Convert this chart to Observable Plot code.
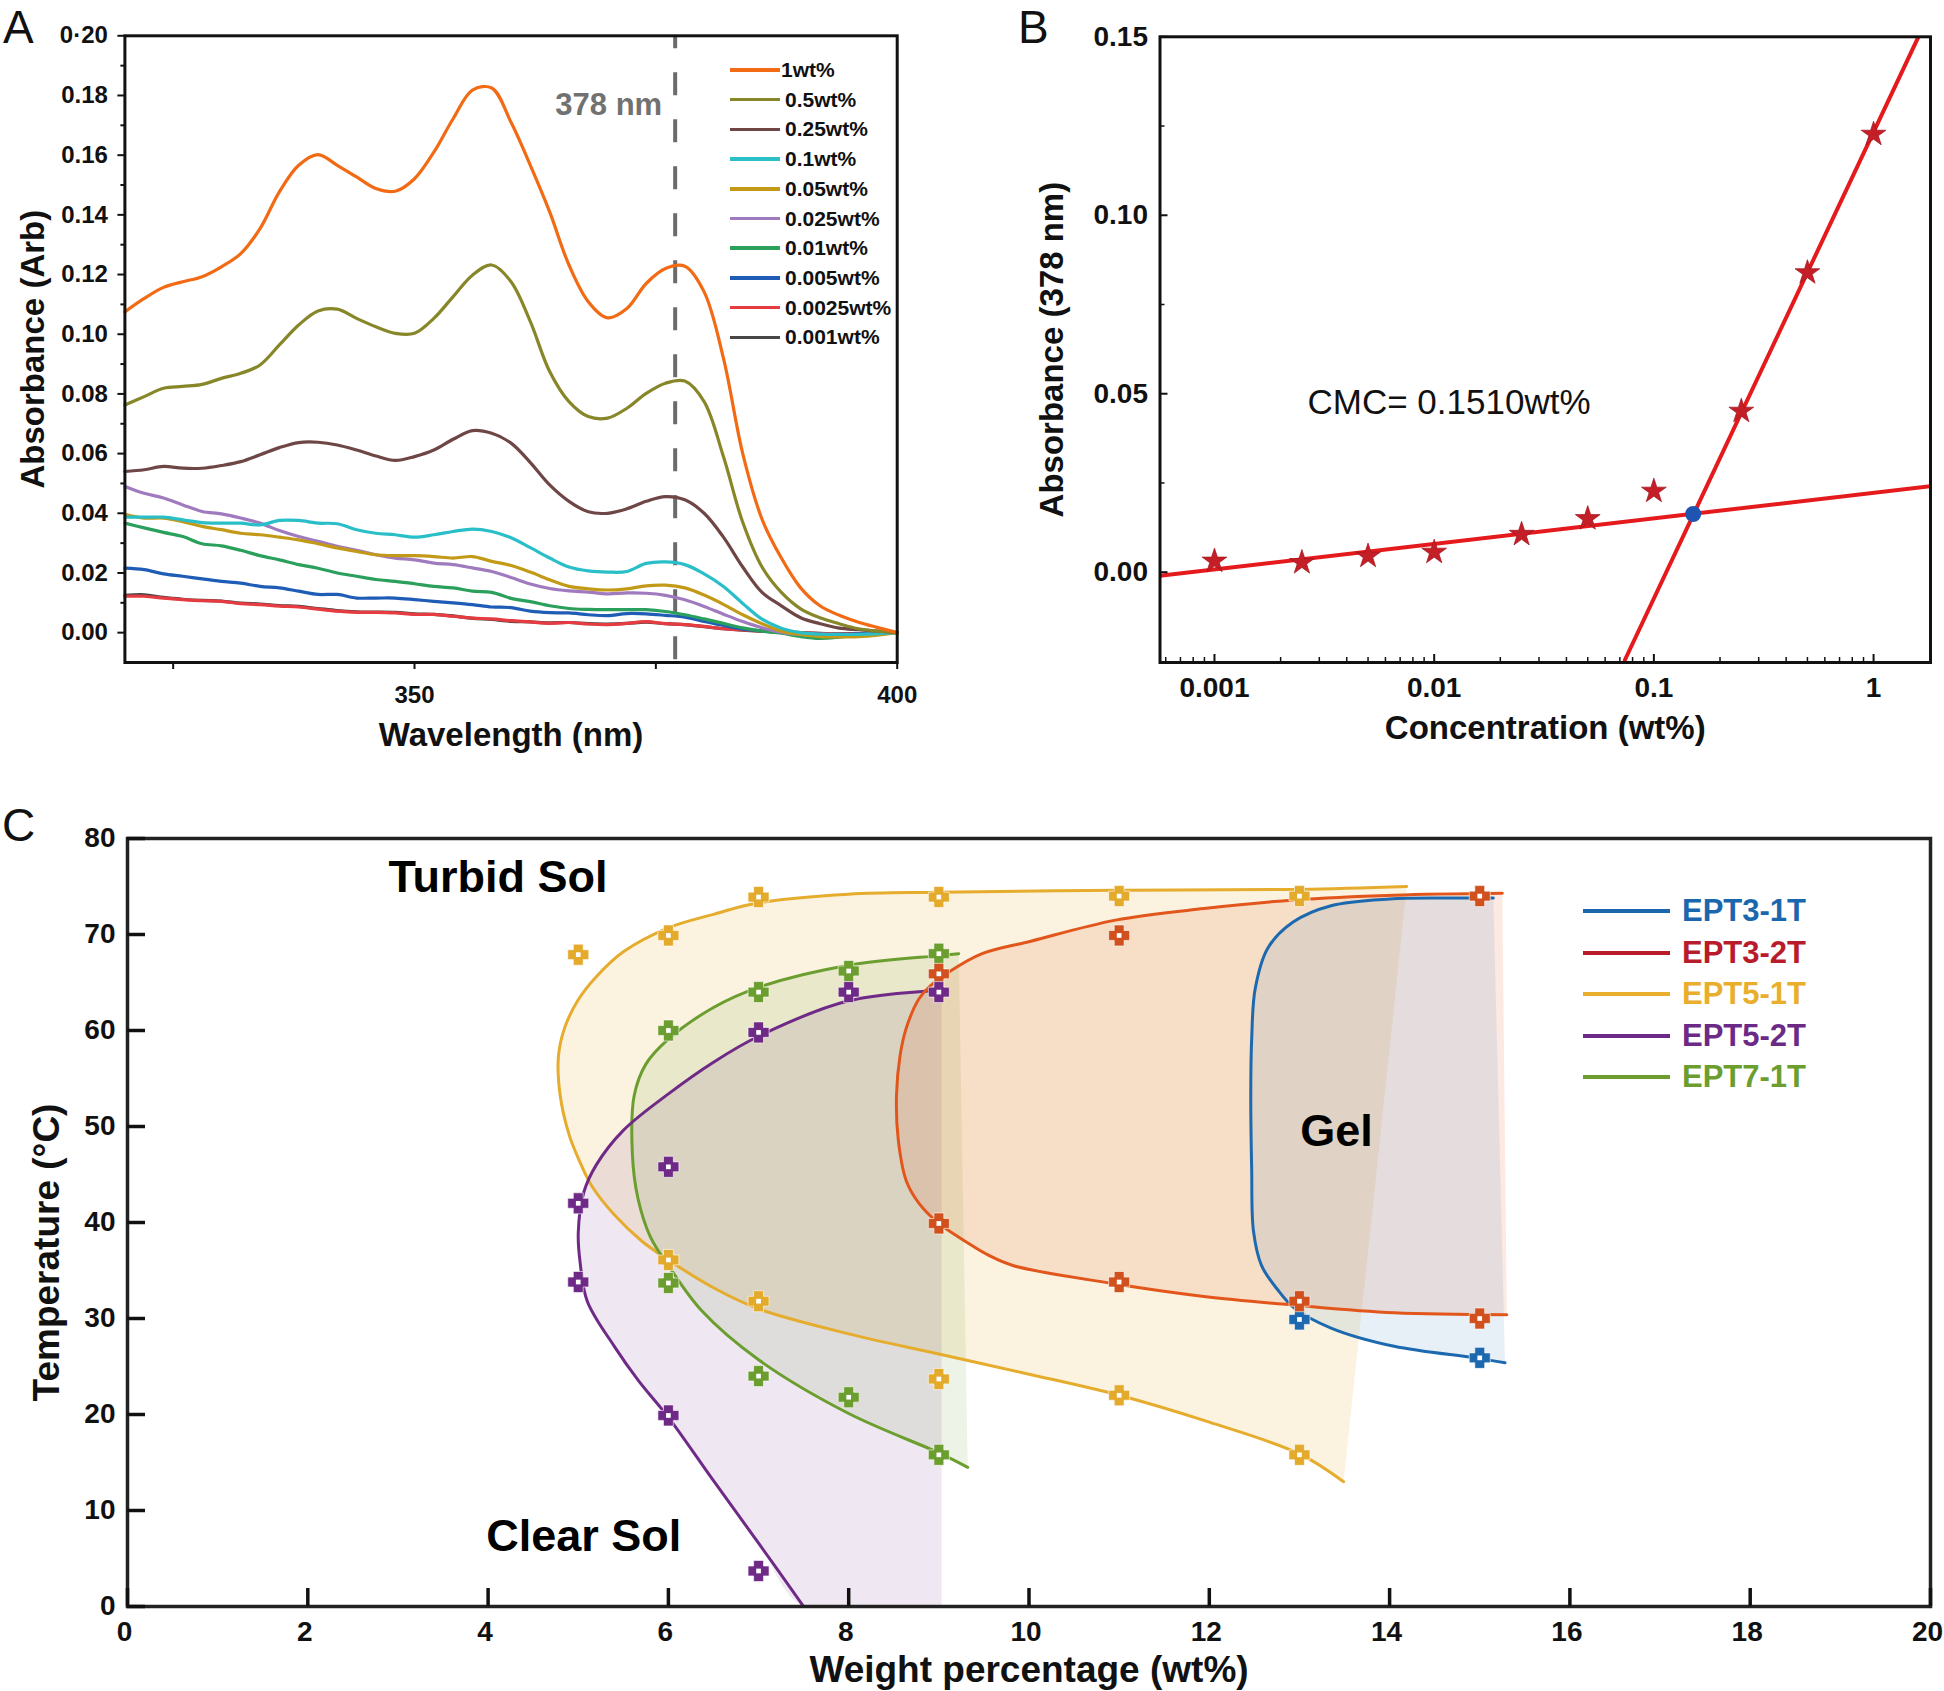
<!DOCTYPE html>
<html><head><meta charset="utf-8">
<script src="https://cdn.jsdelivr.net/npm/d3@7"></script>
<script src="https://cdn.jsdelivr.net/npm/@observablehq/plot@0.6"></script>
<style>
html,body{margin:0;padding:0;background:#fff;}
#fig{position:relative;width:1944px;height:1691px;overflow:hidden;font-family:"Liberation Sans",Arial,Helvetica,sans-serif;background:#fff;}
#fig svg{position:absolute;overflow:visible;background:transparent;}
#pA{left:0;top:0;} #pB{left:1000px;top:0;} #pC{left:0;top:780px;}
#pA g[aria-label="x-axis label"] text, #pA g[aria-label="y-axis label"] text,
#pB g[aria-label="x-axis label"] text, #pB g[aria-label="y-axis label"] text {font-size:33px;}
#pC g[aria-label="x-axis label"] text {font-size:37px;}
.lab{position:absolute;font-size:46px;line-height:normal;color:#111;font-weight:normal;}
.leg{position:absolute;display:flex;align-items:center;font-weight:bold;white-space:nowrap;}
.leg .sw{display:inline-block;}
</style></head><body><div id="fig"></div><script>
// ---------------- Panel A data ----------------
const wavelength = [320,322,324,326,328,330,332,334,336,338,340,342,344,346,348,350,352,354,356,358,360,362,364,366,368,370,372,374,376,378,380,382,384,386,388,390,392,394,396,398,400];
const abs_1wt = [0.1075,0.112,0.1157,0.1176,0.1193,0.1226,0.127,0.1354,0.1477,0.1566,0.1602,0.1566,0.1527,0.1488,0.1479,0.1521,0.161,0.1722,0.1818,0.1825,0.171,0.1566,0.141,0.1232,0.1109,0.1055,0.1086,0.117,0.122,0.1228,0.1142,0.092,0.060,0.038,0.025,0.015,0.009,0.0058,0.0035,0.0017,0];
const abs_05wt = [0.0763,0.0791,0.0819,0.0825,0.0832,0.0852,0.0869,0.0897,0.0964,0.1031,0.1078,0.1084,0.1053,0.1025,0.1003,0.1003,0.1053,0.1126,0.1198,0.1232,0.1176,0.1042,0.0875,0.0774,0.0724,0.0719,0.0752,0.0802,0.0836,0.0843,0.0774,0.059,0.037,0.022,0.0135,0.008,0.005,0.003,0.0013,0.0005,0];
const abs_025wt = [0.054,0.0546,0.0557,0.0551,0.0551,0.056,0.0573,0.0596,0.062,0.0637,0.0638,0.0629,0.0612,0.0592,0.0577,0.059,0.0612,0.0648,0.0677,0.0668,0.0635,0.057,0.0495,0.044,0.0405,0.04,0.0415,0.044,0.0456,0.0445,0.040,0.032,0.022,0.0135,0.009,0.005,0.003,0.0015,0.001,0.0005,0];
const abs_01wt = [0.0387,0.0387,0.0387,0.0378,0.0369,0.0367,0.0367,0.0361,0.0376,0.0376,0.0367,0.0365,0.0345,0.0333,0.0328,0.032,0.0328,0.0339,0.0347,0.0339,0.0318,0.0285,0.025,0.022,0.0207,0.0203,0.0205,0.0232,0.0237,0.0228,0.0197,0.0155,0.0098,0.0045,0.0015,0.0,-0.0005,-0.0006,-0.0006,-0.0003,0];
const abs_005wt = [0.0397,0.0384,0.0384,0.0372,0.0356,0.0345,0.0333,0.0328,0.032,0.0311,0.0298,0.0284,0.0272,0.0261,0.0258,0.0258,0.0255,0.025,0.0255,0.0239,0.0225,0.0203,0.0177,0.0155,0.0147,0.0143,0.0147,0.0157,0.0159,0.015,0.0126,0.0095,0.006,0.003,0.0005,-0.0006,-0.0013,-0.0014,-0.0013,-0.0008,0];
const abs_0025wt = [0.049,0.0467,0.0451,0.0428,0.0406,0.0398,0.0384,0.0367,0.0342,0.0322,0.0306,0.0289,0.0276,0.0261,0.025,0.0244,0.0233,0.0228,0.0217,0.0205,0.0185,0.0163,0.0148,0.014,0.0136,0.013,0.0133,0.0132,0.0125,0.011,0.0088,0.0062,0.0037,0.0016,0.0001,-0.0006,-0.001,-0.001,-0.0007,-0.0003,0];
const abs_001wt = [0.0367,0.0351,0.0336,0.0322,0.0298,0.0291,0.0276,0.0258,0.0244,0.0228,0.0216,0.02,0.0189,0.0178,0.0172,0.0164,0.0155,0.015,0.0139,0.0135,0.0115,0.0104,0.009,0.0081,0.0078,0.0077,0.0077,0.0077,0.0071,0.006,0.0046,0.0031,0.0016,0.0005,-0.0002,-0.0013,-0.0019,-0.0015,-0.0008,-0.0003,0];
const abs_0005wt = [0.0216,0.0211,0.0197,0.0189,0.018,0.0172,0.0166,0.0155,0.015,0.0139,0.0128,0.0128,0.0116,0.0116,0.0116,0.0111,0.0105,0.01,0.0094,0.0086,0.0084,0.0072,0.0067,0.0066,0.006,0.0057,0.0064,0.0063,0.0058,0.0052,0.0038,0.0024,0.0012,0.0006,0.0,-0.0004,-0.0006,-0.0006,-0.0004,-0.0002,0];
const abs_00025wt = [0.0122,0.0122,0.0116,0.0111,0.0107,0.0105,0.0097,0.0094,0.0089,0.0086,0.0079,0.0072,0.0068,0.0068,0.0066,0.0061,0.0061,0.0055,0.0049,0.0046,0.004,0.0036,0.0031,0.0034,0.0029,0.0027,0.0031,0.0037,0.003,0.0027,0.0021,0.0013,0.0009,0.0005,0.0002,0,-0.0003,-0.0005,-0.0004,-0.0002,0];
const abs_0001wt = [0.0125,0.0127,0.0118,0.0112,0.0108,0.0106,0.0099,0.0096,0.0091,0.0088,0.0081,0.0074,0.007,0.0069,0.0068,0.0063,0.0061,0.0056,0.0048,0.0044,0.0038,0.0036,0.0033,0.0034,0.003,0.0029,0.0031,0.0035,0.003,0.0027,0.002,0.0013,0.0008,0.0005,0.0002,0,-0.0002,-0.0004,-0.0003,-0.0001,0];
const namesA = ["1wt%","0.5wt%","0.25wt%","0.1wt%","0.05wt%","0.025wt%","0.01wt%","0.005wt%","0.0025wt%","0.001wt%"];
const seriesA = [abs_1wt,abs_05wt,abs_025wt,abs_01wt,abs_005wt,abs_0025wt,abs_001wt,abs_0005wt,abs_00025wt,abs_0001wt];
const colorsA = ["#F26A14","#87872A","#6E4646","#2ABFC8","#C39A18","#A07ABE","#2BA05C","#1F5CB5","#E63C41","#474747"];
const markerWavelength = [377];
const markerLabel = ["378 nm"];
const xTicksA = [325,350,375,400];
const yTicksA = [0,0.02,0.04,0.06,0.08,0.1,0.12,0.14,0.16,0.18,0.2];
const yMinorA = [0.01,0.03,0.05,0.07,0.09,0.11,0.13,0.15,0.17,0.19];

// ---------------- Panel B data ----------------
const concB = [0.001,0.0025,0.005,0.01,0.025,0.05,0.1,0.25,0.5,1];
const absB = [0.0031,0.0027,0.0045,0.0056,0.0106,0.015,0.0227,0.0451,0.0839,0.1227];
const fitLowX = [0.000565,1.816];
const fitLowY = [-0.001,0.0241];
const fitHighX = [0.0738,1.60];
const fitHighY = [-0.0246,0.15];
const cmcX = [0.151];
const cmcY = [0.0163];
const cmcText = ["CMC= 0.1510wt%"];
const xTicksB = [0.001,0.01,0.1,1];
const decadesB = [0.0001,0.001,0.01,0.1];
const yTicksB = [0,0.05,0.1,0.15];
const yMinorB = [0.025,0.075,0.125];

// ---------------- Panel C data ----------------
const namesC = ["EPT3-1T","EPT3-2T","EPT5-1T","EPT5-2T","EPT7-1T"];
const curveEPT3_1T = [[15.15,73.8],[14.6,73.8],[14.0,73.7],[13.35,73.0],[12.93,71.3],[12.65,68.6],[12.51,64.4],[12.47,59.1],[12.46,53.2],[12.47,45.6],[12.49,39.1],[12.58,35.5],[12.75,33.1],[12.94,31.1],[13.35,29.0],[14.05,27.1],[14.95,25.9],[15.28,25.4]];
const curveEPT3_2T = [[15.25,74.3],[14.05,74.1],[12.94,73.6],[11.94,72.7],[10.96,71.5],[10.02,69.3],[9.48,68.0],[9.13,66.2],[8.9,64.6],[8.78,63.3],[8.64,60.3],[8.57,57.4],[8.53,53.2],[8.55,48.6],[8.64,44.3],[8.78,42.0],[9.0,39.9],[9.3,38.0],[9.55,36.6],[9.83,35.5],[10.96,33.6],[11.94,32.3],[12.94,31.4],[14.05,30.6],[15.3,30.4]];
const curveEPT5_1T = [[14.19,75.0],[13,74.7],[11,74.6],[9,74.4],[8,74.2],[7,73.3],[6.5,72.1],[6,70.7],[5.5,68.2],[5.2,65.6],[5.0,63.2],[4.85,60.3],[4.78,57.3],[4.8,53.2],[4.9,49.1],[5.0,46.7],[5.15,43.8],[5.4,40.8],[5.7,38.1],[6,36.1],[6.5,33.2],[7,31.0],[8,28.4],[9,26.3],[10,24.2],[11,22.0],[12,19.2],[13,15.9],[13.49,13.0]];
const curveEPT5_2T = [[9.03,64.2],[8,63.1],[7,59.4],[6.5,56.7],[6,53.4],[5.5,49.6],[5.2,46.0],[5.06,43.1],[5.0,38.9],[5.02,35.9],[5.1,31.8],[5.4,27.1],[5.67,23.5],[6,19.7],[6.5,13.1],[7,6.6],[7.5,0]];
const curveEPT7_1T = [[9.22,68.0],[9,67.8],[8,66.8],[7,64.5],[6.5,62.4],[6,59.1],[5.75,56.5],[5.62,53.2],[5.6,47.2],[5.66,42.6],[5.8,38.5],[6,35.5],[6.37,30.8],[7,25.7],[8,20.1],[9,16.0],[9.32,14.5]];
const closeEPT5_2T = [[9.03,0]];
const ptsEPT3_1T = [[13,29.9],[15,25.9]];
const ptsEPT3_2T = [[9,65.9],[11,69.9],[15,74.0],[9,39.9],[11,33.8],[13,31.8],[15,30.0]];
const ptsEPT5_1T = [[5,67.9],[6,69.9],[7,73.9],[9,73.9],[11,74.0],[13,74.0],[6,36.1],[7,31.8],[9,23.7],[11,22.0],[13,15.8]];
const ptsEPT5_2T = [[9,64.0],[8,64.0],[7,59.8],[6,45.8],[5,42.0],[5,33.8],[6,19.9],[7,3.7]];
const ptsEPT7_1T = [[9,68.0],[8,66.2],[7,64.0],[6,60.0],[6,33.7],[7,24.0],[8,21.8],[9,15.8]];
const regionText = ["Turbid Sol","Clear Sol","Gel"];
const regionX = [4.11,5.06,13.41];
const regionY = [75.9,7.3,49.5];
const xTicksC = [0,2,4,6,8,10,12,14,16,18,20];
const yTicksC = [0,10,20,30,40,50,60,70,80];
const yTitleC = ["Temperature (°C)"];

// ---------------- styles ----------------
const FONT = "'Liberation Sans', Arial, Helvetica, sans-serif";
const colC = {line:["#1C69AF","#E2561C","#E5AC2D","#6E2A86","#6B9E2F"],
              mark:["#1C69AF","#D0501E","#E3AA2B","#6E2A86","#6B9E2F"],
              legend:["#1B67AE","#B81C2C","#E8AE2C","#6C2A87","#6B9E2F"],
              fillOp:[0.10,0.13,0.15,0.11,0.12]};

const fig = document.getElementById("fig");

// ================= Panel A =================
const plotA = Plot.plot({
  width: 920, height: 780,
  marginLeft: 124.4, marginRight: 23.3, marginTop: 35.3, marginBottom: 118,
  style: {fontFamily: FONT, fontSize: "24px", fontWeight: "bold", color: "#111", background: "transparent"},
  x: {domain: [320, 400]},
  y: {domain: [-0.01, 0.2]},
  marks: [
    Plot.ruleX(markerWavelength, {x: d => d, y1: 0.2, y2: -0.01, stroke: "#6b6b6b", strokeWidth: 4, strokeDasharray: "23,24", strokeDashoffset: 10}),
    ...seriesA.map((vals, s) => s).reverse().map(s =>
      Plot.line(seriesA[s], {x: (d, i) => wavelength[i], y: d => d, stroke: colorsA[s], strokeWidth: 3.2, curve: "catmull-rom"})),
    Plot.text(markerLabel, {x: markerWavelength[0], y: 0.1767, text: d => d, dx: -13, textAnchor: "end", fill: "#717171", fontSize: 31, fontWeight: "bold"}),
    Plot.frame({stroke: "#111", strokeWidth: 3}),
    Plot.axisX({ticks: xTicksA, tickSize: 7, tickPadding: 16, strokeWidth: 2, tickFormat: d => (d % 50 === 0 ? String(d) : ""),
      label: "Wavelength (nm)", labelAnchor: "center", labelOffset: 83, labelArrow: "none"}),
    Plot.axisY({ticks: yTicksA, tickSize: 7, tickPadding: 10, strokeWidth: 2, tickFormat: d => (d === 0.2 ? "0·20" : d.toFixed(2)),
      label: "Absorbance (Arb)", labelAnchor: "center", labelOffset: 104, labelArrow: "none"}),
    Plot.axisY({ticks: yMinorA, tickSize: 4, strokeWidth: 2, fill: "none", label: null})
  ]
});
plotA.id = "pA";
fig.appendChild(plotA);

// ================= Panel B =================
const minorB = decadesB.flatMap(d => [2,3,4,5,6,7,8,9].map(m => +(m * d).toPrecision(3)))
  .filter(v => v > 0.000565 && v < 1.816);
const plotB = Plot.plot({
  width: 944, height: 780,
  marginLeft: 159.5, marginRight: 14, marginTop: 36.3, marginBottom: 118,
  style: {fontFamily: FONT, fontSize: "28px", fontWeight: "bold", color: "#111", background: "transparent"},
  x: {type: "log", domain: [0.000565, 1.816]},
  y: {domain: [-0.0253, 0.15]},
  marks: [
    Plot.line(fitLowX, {x: d => d, y: (d, i) => fitLowY[i], stroke: "#E41A1C", strokeWidth: 4, clip: true}),
    Plot.line(fitHighX, {x: d => d, y: (d, i) => fitHighY[i], stroke: "#E41A1C", strokeWidth: 4, clip: true}),
    Plot.dot(concB, {x: d => d, y: (d, i) => absB[i], symbol: "star", r: 7.8, fill: "#C41E27", stroke: "#A0141D", strokeWidth: 0.7}),
    Plot.dot(cmcX, {x: d => d, y: (d, i) => cmcY[i], r: 8, fill: "#1F55B0"}),
    Plot.text(cmcText, {x: 0.00265, y: 0.0476, text: d => d, textAnchor: "start", fontSize: 35, fontWeight: "normal", fill: "#111"}),
    Plot.frame({stroke: "#111", strokeWidth: 3}),
    Plot.axisX({ticks: xTicksB, tickSize: 8, dy: -8, fill: "none", strokeWidth: 2}),
    Plot.axisX({ticks: minorB, tickSize: 5, dy: -5, fill: "none", strokeWidth: 1.5}),
    Plot.axisX({ticks: xTicksB, tickSize: 0, tickPadding: 15, tickFormat: d => String(d),
      label: "Concentration (wt%)", labelAnchor: "center", labelOffset: 76, labelArrow: "none"}),
    Plot.axisY({ticks: yTicksB, tickSize: 8, dx: 8, fill: "none", strokeWidth: 2}),
    Plot.axisY({ticks: yMinorB, tickSize: 5, dx: 5, fill: "none", strokeWidth: 1.5}),
    Plot.axisY({ticks: yTicksB, tickSize: 0, tickPadding: 12, tickFormat: d => d.toFixed(2),
      label: "Absorbance (378 nm)", labelAnchor: "center", labelOffset: 120.5, labelArrow: "none"})
  ]
});
plotB.id = "pB";
fig.appendChild(plotB);

// ================= Panel C =================
const thickPlus = {draw(ctx, size) {
  const r = Math.sqrt(size / Math.PI), t = r * 0.47;
  ctx.moveTo(-r, -t); ctx.lineTo(-t, -t); ctx.lineTo(-t, -r); ctx.lineTo(t, -r); ctx.lineTo(t, -t);
  ctx.lineTo(r, -t); ctx.lineTo(r, t); ctx.lineTo(t, t); ctx.lineTo(t, r); ctx.lineTo(-t, r);
  ctx.lineTo(-t, t); ctx.lineTo(-r, t); ctx.closePath();
}};
const curvesC = [curveEPT3_1T, curveEPT3_2T, curveEPT5_1T, curveEPT5_2T, curveEPT7_1T];
const polysC = [curveEPT3_1T, curveEPT3_2T, curveEPT5_1T, curveEPT5_2T.concat(closeEPT5_2T), curveEPT7_1T];
const ptsC = [ptsEPT3_1T, ptsEPT3_2T, ptsEPT5_1T, ptsEPT5_2T, ptsEPT7_1T];
const fillOrder = [2, 4, 3, 1, 0];
const lineOrder = [2, 4, 3, 0, 1];
const markOrder = [2, 4, 0, 1, 3];
const plotC = Plot.plot({
  width: 1944, height: 911,
  marginLeft: 127, marginRight: 14, marginTop: 58, marginBottom: 85,
  style: {fontFamily: FONT, fontSize: "28px", fontWeight: "bold", color: "#111", background: "transparent"},
  x: {domain: [0, 20]},
  y: {domain: [0, 80]},
  marks: [
    ...fillOrder.map(s => Plot.line(polysC[s], {x: d => d[0], y: d => d[1], fill: colC.line[s], fillOpacity: colC.fillOp[s], stroke: "none", curve: "catmull-rom", clip: true})),
    ...lineOrder.map(s => Plot.line(curvesC[s], {x: d => d[0], y: d => d[1], stroke: colC.line[s], strokeWidth: 3, curve: "catmull-rom", clip: true})),
    ...markOrder.map(s => Plot.dot(ptsC[s], {x: d => d[0], y: d => d[1], symbol: thickPlus, r: 10.5, fill: colC.mark[s], stroke: "#fff", strokeWidth: 1, strokeOpacity: 0.6})),
    ...markOrder.map(s => Plot.dot(ptsC[s], {x: d => d[0], y: d => d[1], symbol: "square", r: 2.65, fill: "#fff"})),
    Plot.text(regionText, {x: (d, i) => regionX[i], y: (d, i) => regionY[i], text: d => d, fontSize: 45, fontWeight: "bold", fill: "#000"}),
    Plot.frame({stroke: "#222", strokeWidth: 3.5}),
    Plot.axisX({ticks: xTicksC, tickSize: 18, dy: -18, fill: "none", strokeWidth: 3.5}),
    Plot.axisX({ticks: xTicksC, tickSize: 0, tickPadding: 15, dx: -3,
      label: "Weight percentage (wt%)", labelAnchor: "center", labelOffset: 75.5, labelArrow: "none"}),
    Plot.axisY({ticks: yTicksC, tickSize: 18, dx: 18, fill: "none", strokeWidth: 3.5}),
    Plot.axisY({ticks: yTicksC, tickSize: 0, tickPadding: 12, label: null}),
    Plot.text(yTitleC, {frameAnchor: "left", text: d => d, rotate: -90, dx: -95, dy: 30, textAnchor: "middle", lineAnchor: "top", fontSize: 37, fontWeight: "bold", fill: "#111"})
  ]
});
plotC.id = "pC";
fig.appendChild(plotC);

// ================= Legends & panel letters (HTML) =================
namesA.forEach((n, i) => {
  const row = document.createElement("div");
  row.className = "leg";
  row.style.left = "730px"; row.style.top = (70 + i * 29.7 - 12) + "px";
  row.style.height = "24px"; row.style.fontSize = "21px"; row.style.lineHeight = "24px"; row.style.color = "#111";
  row.innerHTML = `<span class="sw" style="width:50px;height:3.5px;background:${colorsA[i]};margin-right:${i === 0 ? 1 : 5}px"></span><span>${n}</span>`;
  fig.appendChild(row);
});
namesC.forEach((n, i) => {
  const row = document.createElement("div");
  row.className = "leg";
  row.style.left = "1583px"; row.style.top = (911 + i * 41.5 - 18) + "px";
  row.style.height = "36px"; row.style.fontSize = "31px"; row.style.lineHeight = "36px"; row.style.color = colC.legend[i];
  row.innerHTML = `<span class="sw" style="width:87px;height:4px;background:${colC.legend[i]};margin-right:12px"></span><span>${n}</span>`;
  fig.appendChild(row);
});
[["A", 3, 0], ["B", 1018, 0], ["C", 2, 798]].forEach(([t, l, tp]) => {
  const d = document.createElement("div");
  d.className = "lab"; d.textContent = t; d.style.left = l + "px"; d.style.top = tp + "px";
  fig.appendChild(d);
});
</script></body></html>
